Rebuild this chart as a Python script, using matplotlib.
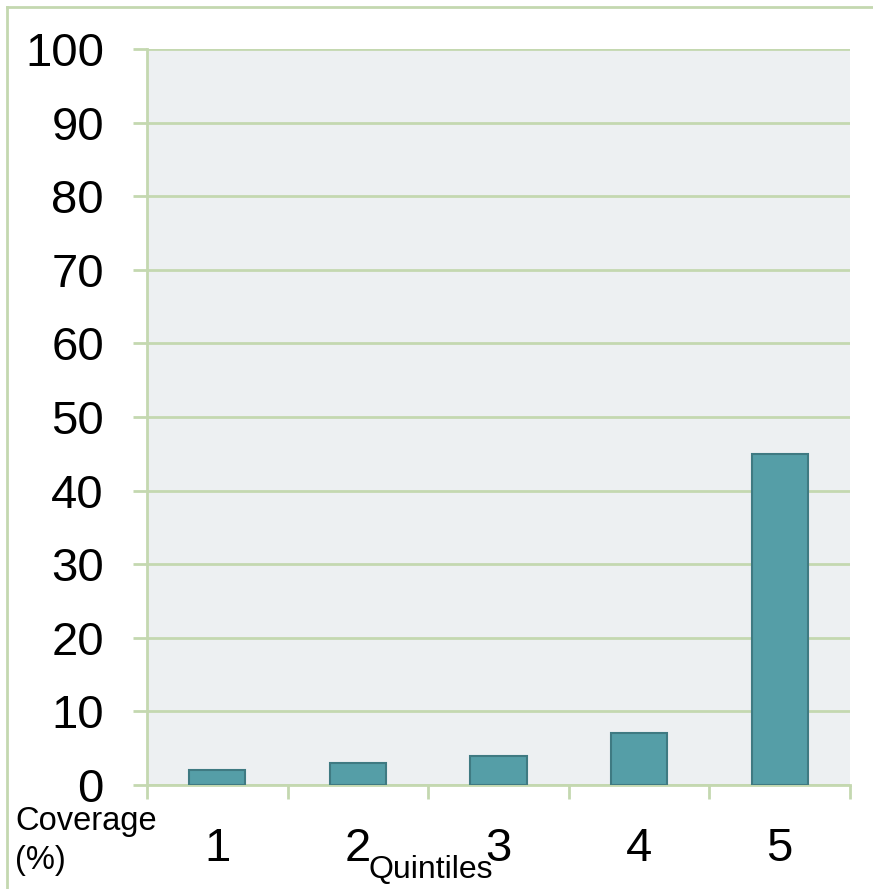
import matplotlib.pyplot as plt
from matplotlib.lines import Line2D

plt.rcParams["font.family"] = ["Liberation Sans", "DejaVu Sans"]

quintiles = ["1", "2", "3", "4", "5"]
coverage = [2, 3, 4, 7, 45]
y_ticks = [0, 10, 20, 30, 40, 50, 60, 70, 80, 90, 100]

green = "#c4d8b0"
bar_fill = "#559ea7"
bar_edge = "#3f7a82"

fig = plt.figure(figsize=(8.73, 8.89), dpi=100)

# outer frame, only left and top edges are visible
fig.add_artist(Line2D([7 / 873, 7 / 873], [0, 1 - 7 / 889],
                      color=green, linewidth=2, transform=fig.transFigure))
fig.add_artist(Line2D([7 / 873, 1], [1 - 7 / 889, 1 - 7 / 889],
                      color=green, linewidth=2, transform=fig.transFigure))

ax = fig.add_axes([147 / 873, (889 - 785) / 889, 703 / 873, (785 - 49) / 889])
ax.set_facecolor("#edf0f2")

positions = list(range(1, len(quintiles) + 1))
ax.bar(positions, coverage, width=0.4, color=bar_fill,
       edgecolor=bar_edge, linewidth=1.5, zorder=3)

ax.set_xlim(0.5, len(quintiles) + 0.5)
ax.set_ylim(0, 100)

ax.set_yticks(y_ticks)
ax.set_yticklabels([str(v) for v in y_ticks], fontsize=34)
ax.yaxis.grid(True, color=green, linewidth=2, zorder=0)
ax.tick_params(axis="y", length=10, width=2, color=green, pad=21)

ax.set_xticks(positions)
ax.set_xticklabels(quintiles, fontsize=34)
ax.tick_params(axis="x", which="major", length=0, pad=30)
ax.set_xticks([p + 0.5 for p in [0] + positions], minor=True)
ax.tick_params(axis="x", which="minor", length=10, width=2, color=green)

for side in ["top", "right"]:
    ax.spines[side].set_visible(False)
for side in ["left", "bottom"]:
    ax.spines[side].set_color(green)
    ax.spines[side].set_linewidth(2)

fig.text(15 / 873, 1 - 830 / 889, "Coverage", fontsize=23.5, va="baseline")
fig.text(15 / 873, 1 - 869 / 889, "(%)", fontsize=23.5, va="baseline")
fig.text(368 / 873, 1 - 878 / 889, "Quintiles", fontsize=23, va="baseline")

fig.savefig("out.png", dpi=100)
